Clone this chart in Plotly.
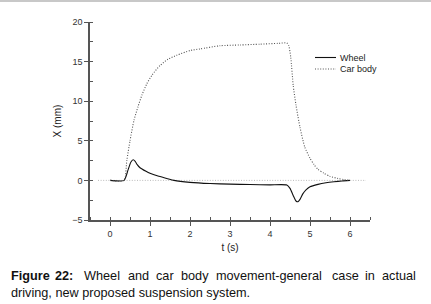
import plotly.graph_objects as go

wheel_t = [0, 0.35, 0.45, 0.52, 0.58, 0.63, 0.68, 0.75, 0.9, 1.0, 1.2, 1.42, 1.6, 2.0, 2.5, 3.0, 3.5, 4.0, 4.42, 4.5, 4.58, 4.65, 4.7, 4.75, 4.82, 4.9, 5.0, 5.2, 5.4, 5.6, 5.8, 6.0]
wheel_x = [0, 0, 1.3, 2.3, 2.6, 2.4, 2.0, 1.6, 1.15, 0.9, 0.55, 0.25, 0.0, -0.25, -0.4, -0.47, -0.52, -0.56, -0.58, -1.0, -1.9, -2.6, -2.7, -2.4, -1.7, -1.2, -0.8, -0.5, -0.3, -0.17, -0.07, 0]

body_t = [0, 0.35, 0.42, 0.5, 0.6, 0.7, 0.8, 0.92, 1.05, 1.25, 1.45, 1.67, 2.0, 2.25, 2.75, 3.25, 3.75, 4.2, 4.42, 4.47, 4.52, 4.58, 4.65, 4.75, 4.87, 5.0, 5.1, 5.2, 5.35, 5.5, 5.7, 5.85, 6.0]
body_x = [0, 0, 2.5, 5.0, 7.6, 9.3, 10.8, 12.2, 13.3, 14.5, 15.3, 15.8, 16.4, 16.6, 17.0, 17.1, 17.2, 17.3, 17.35, 17.0, 15.5, 12.0, 9.5, 6.7, 4.2, 2.8, 2.0, 1.4, 0.9, 0.5, 0.25, 0.1, 0]

x_ticks = [0, 1, 2, 3, 4, 5, 6]
y_ticks = [-5, 0, 5, 10, 15, 20]

series_names = ["Wheel", "Car body"]

caption_line1 = [("<b>Figure</b>", 9), ("<b>22:</b>", 53), ("Wheel", 82), ("and", 126), ("car", 154),
                 ("body", 179), ("movement-general", 214), ("case", 330), ("in", 363), ("actual", 380)]
caption_line2 = "driving, new proposed suspension system."

L, T, PW, PH = 90, 22, 280, 198
def px(x): return (x - L) / PW
def py(y): return (T + PH - y) / PH

font = "Liberation Sans, Arial, sans-serif"
styles = [dict(color="#111111", width=1.1),
          dict(color="#555555", width=1.1, dash="1px,1.6px")]

fig = go.Figure()
fig.add_trace(go.Scatter(x=wheel_t, y=wheel_x, mode="lines", name=series_names[0], showlegend=False,
                         line=dict(**styles[0], shape="spline", smoothing=0.6)))
fig.add_trace(go.Scatter(x=body_t, y=body_x, mode="lines", name=series_names[1], showlegend=False,
                         line=dict(**styles[1], shape="spline", smoothing=0.6)))

# legend drawn manually for exact placement
for i, (name, st) in enumerate(zip(series_names, styles)):
    yy = 57.5 + i * 11.5
    fig.add_shape(type="line", xref="paper", yref="paper", x0=px(315), x1=px(336), y0=py(yy), y1=py(yy),
                  line=st)
    fig.add_annotation(text=name, xref="paper", yref="paper", x=px(337.5), y=py(yy),
                       xanchor="left", yanchor="middle", showarrow=False,
                       font=dict(family=font, size=9, color="#222222"))

fig.add_shape(type="line", xref="x", yref="y", x0=-0.3, x1=6.4, y0=0, y1=0,
              line=dict(color="#aaaaaa", width=0.8, dash="1px,1.6px"), layer="below")
fig.add_shape(type="line", xref="paper", yref="paper", x0=px(0), x1=px(431), y0=py(1), y1=py(1),
              line=dict(color="#c8c8c8", width=2))

for word, x in caption_line1:
    fig.add_annotation(text=word, xref="paper", yref="paper", x=px(x), y=py(276),
                       xanchor="left", yanchor="middle", showarrow=False,
                       font=dict(family=font, size=12.7, color="#111111"))
fig.add_annotation(text=caption_line2, xref="paper", yref="paper", x=px(9), y=py(293),
                   xanchor="left", yanchor="middle", showarrow=False,
                   font=dict(family=font, size=12.7, color="#111111"))

axis_common = dict(showline=True, linecolor="#555555", linewidth=1.5, ticks="outside",
                   ticklen=4, tickcolor="#555555", tickwidth=1, showgrid=False, zeroline=False,
                   tickfont=dict(family=font, size=9, color="#333333"))
fig.update_xaxes(range=[-0.5, 6.5], tickvals=x_ticks, title=dict(text="t (s)", standoff=6,
                 font=dict(family=font, size=10, color="#222222")),
                 minor=dict(ticks="inside", dtick=0.5, ticklen=3, tickcolor="#555555", showgrid=False),
                 **axis_common)
fig.update_yaxes(range=[-5, 20], tickvals=y_ticks, title=dict(text="X (mm)", standoff=9,
                 font=dict(family=font, size=10, color="#222222")),
                 minor=dict(ticks="inside", dtick=2.5, ticklen=3, tickcolor="#555555", showgrid=False),
                 **axis_common)

fig.update_layout(width=431, height=304, margin=dict(l=L, r=431 - L - PW, t=T, b=304 - T - PH),
                  plot_bgcolor="white", paper_bgcolor="white", showlegend=False,
                  font=dict(family=font))
fig.write_html("out.html", config={"displayModeBar": False},
               post_script="document.body.style.margin='0';document.body.style.overflow='hidden';")
